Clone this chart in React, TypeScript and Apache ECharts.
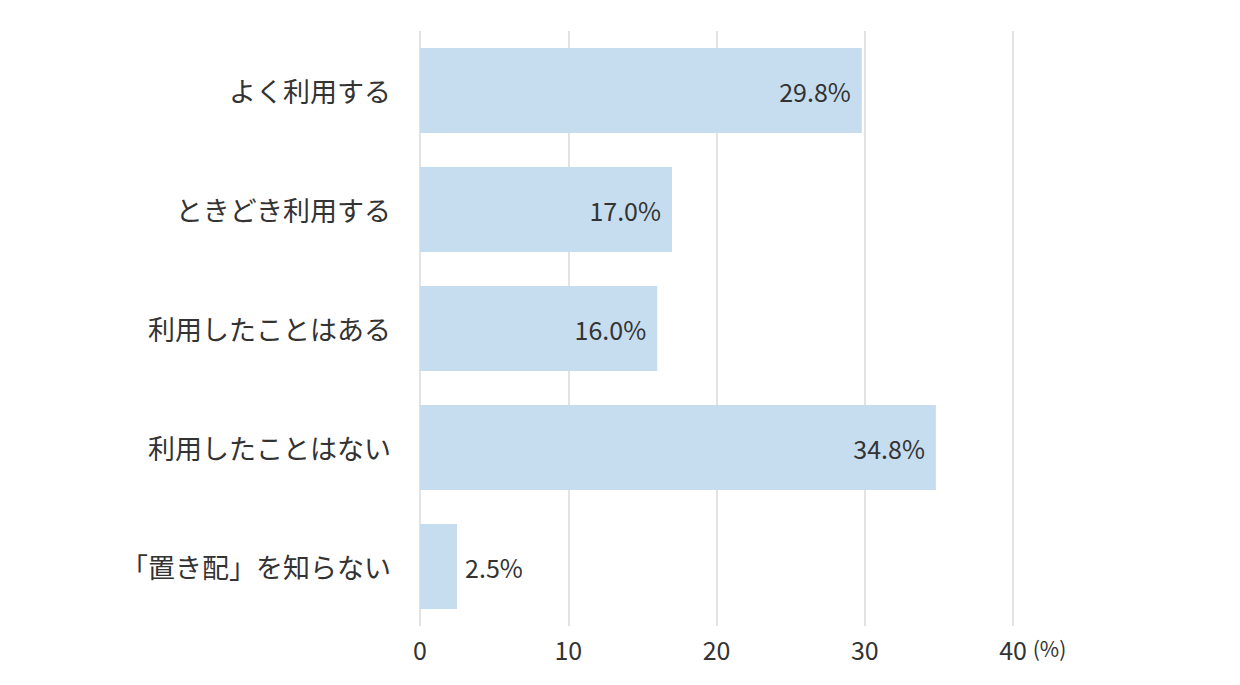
import React, { useEffect, useRef } from "react";
import * as echarts from "echarts";

const categories = [
  "よく利用する",
  "ときどき利用する",
  "利用したことはある",
  "利用したことはない",
  "「置き配」を知らない",
];
const values = [29.8, 17.0, 16.0, 34.8, 2.5];
const xTicks = [0, 10, 20, 30, 40];

const FONT = "'Noto Sans CJK JP', 'Noto Sans', sans-serif";
const TEXT = "#333333";

export default function App() {
  const ref = useRef<HTMLDivElement>(null);
  useEffect(() => {
    document.body.style.margin = "0";
    const chart = echarts.init(ref.current!, undefined, { renderer: "svg" });
    chart.setOption({
      animation: false,
      backgroundColor: "#ffffff",
      grid: { left: 420, right: 227, top: 31, bottom: 59, containLabel: false },
      xAxis: {
        type: "value",
        min: xTicks[0],
        max: xTicks[xTicks.length - 1],
        interval: 10,
        axisLine: { show: false },
        axisTick: { show: false },
        splitLine: { show: true, lineStyle: { color: "#d9d9d9", width: 1.5 } },
        axisLabel: {
          color: TEXT,
          fontSize: 25,
          fontFamily: FONT,
          margin: 10,
        },
        name: "(%)",
        nameLocation: "end",
        nameGap: 17,
        nameTextStyle: {
          color: TEXT,
          fontSize: 21,
          fontFamily: FONT,
          verticalAlign: "top",
          padding: [12, 0, 0, 0],
        },
      },
      yAxis: {
        type: "category",
        data: categories,
        inverse: true,
        axisLine: { show: false },
        axisTick: { show: false },
        splitLine: { show: false },
        axisLabel: {
          color: TEXT,
          fontSize: 27,
          fontFamily: FONT,
          margin: 29,
        },
      },
      series: [
        {
          type: "bar",
          data: values.map((v) => ({
            value: v,
            label: {
              show: true,
              position: v < 5 ? "right" : "insideRight",
              distance: v < 5 ? 8 : 11,
            },
          })),
          barWidth: 85,
          itemStyle: { color: "#c6ddef" },
          label: {
            show: true,
            color: TEXT,
            fontSize: 25,
            fontFamily: FONT,
            formatter: (p: any) => p.value.toFixed(1) + "%",
          },
        },
      ],
    });
    return () => chart.dispose();
  }, []);
  return (
    <div
      ref={ref}
      style={{ position: "absolute", left: 0, top: 0, width: 1240, height: 685 }}
    />
  );
}
